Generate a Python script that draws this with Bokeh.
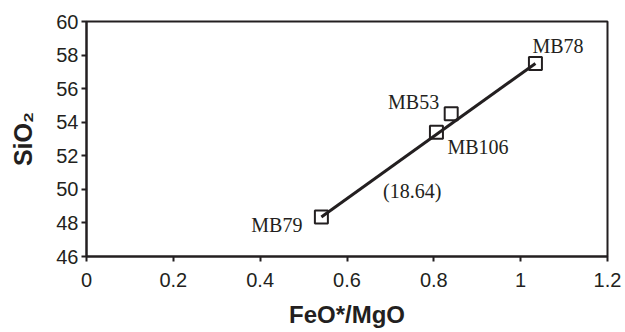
from bokeh.plotting import figure
from bokeh.models import Range1d, ColumnDataSource, Label, FixedTicker
from bokeh.core.properties import value
from bokeh.embed import file_html
from bokeh.resources import INLINE

# data
samples = ["MB79", "MB106", "MB53", "MB78"]
feo_mgo = [0.541, 0.806, 0.840, 1.034]
sio2 = [48.35, 53.4, 54.5, 57.5]

# regression line end points
line_x = [0.541, 1.034]
line_y = [48.35, 57.5]
line_label = "(18.64)"
line_label_x = 0.75
line_label_y = 49.9

x_ticks = [0, 0.2, 0.4, 0.6, 0.8, 1.0, 1.2]
y_ticks = [46, 48, 50, 52, 54, 56, 58, 60]

# label placement (pixel offsets) and alignment per sample
lab_dx = [-19, 11, -12, -3]
lab_dy = [8, 15, -12, -17]
lab_align = ["right", "left", "right", "left"]

ink = "#231f20"

p = figure(width=625, height=332, output_backend="svg", toolbar_location=None,
           x_range=Range1d(0, 1.2), y_range=Range1d(46, 60),
           min_border_left=86, min_border_right=18, min_border_top=21, min_border_bottom=76)
p.background_fill_color = "white"
p.border_fill_color = "white"
p.outline_line_color = ink
p.outline_line_width = 2
p.grid.visible = False

for ax in (p.xaxis[0], p.yaxis[0]):
    ax.axis_line_color = ink
    ax.axis_line_width = 2
    ax.major_tick_line_color = ink
    ax.major_tick_line_width = 2
    ax.major_tick_in = 0
    ax.major_tick_out = 5
    ax.minor_tick_line_color = None
    ax.major_label_text_font = "Liberation Sans"
    ax.major_label_text_font_size = "20px"
    ax.major_label_text_color = ink
    ax.axis_label_text_font = "Liberation Sans"
    ax.axis_label_text_font_style = "bold"
    ax.axis_label_text_color = ink

p.xaxis.axis_label_text_font_size = "24px"
p.yaxis.axis_label_text_font_size = "25px"
p.xaxis.ticker = FixedTicker(ticks=x_ticks)
p.yaxis.ticker = FixedTicker(ticks=y_ticks)
p.xaxis.major_label_overrides = {t: ("0" if t == 0 else ("1" if t == 1.0 else f"{t:g}")) for t in x_ticks}
p.xaxis.axis_label = "FeO*/MgO"
p.yaxis.axis_label = "SiO₂"
p.xaxis.major_label_standoff = 11
p.yaxis.major_label_standoff = 3
p.xaxis.axis_label_standoff = 11
p.yaxis.axis_label_standoff = 16

p.line(line_x, line_y, line_color=ink, line_width=3)

src = ColumnDataSource(dict(x=feo_mgo, y=sio2, name=samples, dx=lab_dx, dy=lab_dy, align=lab_align))
p.scatter("x", "y", source=src, marker="square", size=13, fill_color=None,
          line_color=ink, line_width=2)

p.text("x", "y", text="name", source=src, x_offset="dx", y_offset="dy",
       text_align="align", text_baseline="middle",
       text_font=value("Liberation Serif"), text_font_size="20px", text_color=ink)

p.add_layout(Label(x=line_label_x, y=line_label_y, text=line_label, text_align="center",
                   text_baseline="middle", text_font="Liberation Serif",
                   text_font_size="20px", text_color=ink))

open("out.html", "w").write(file_html(p, INLINE))
